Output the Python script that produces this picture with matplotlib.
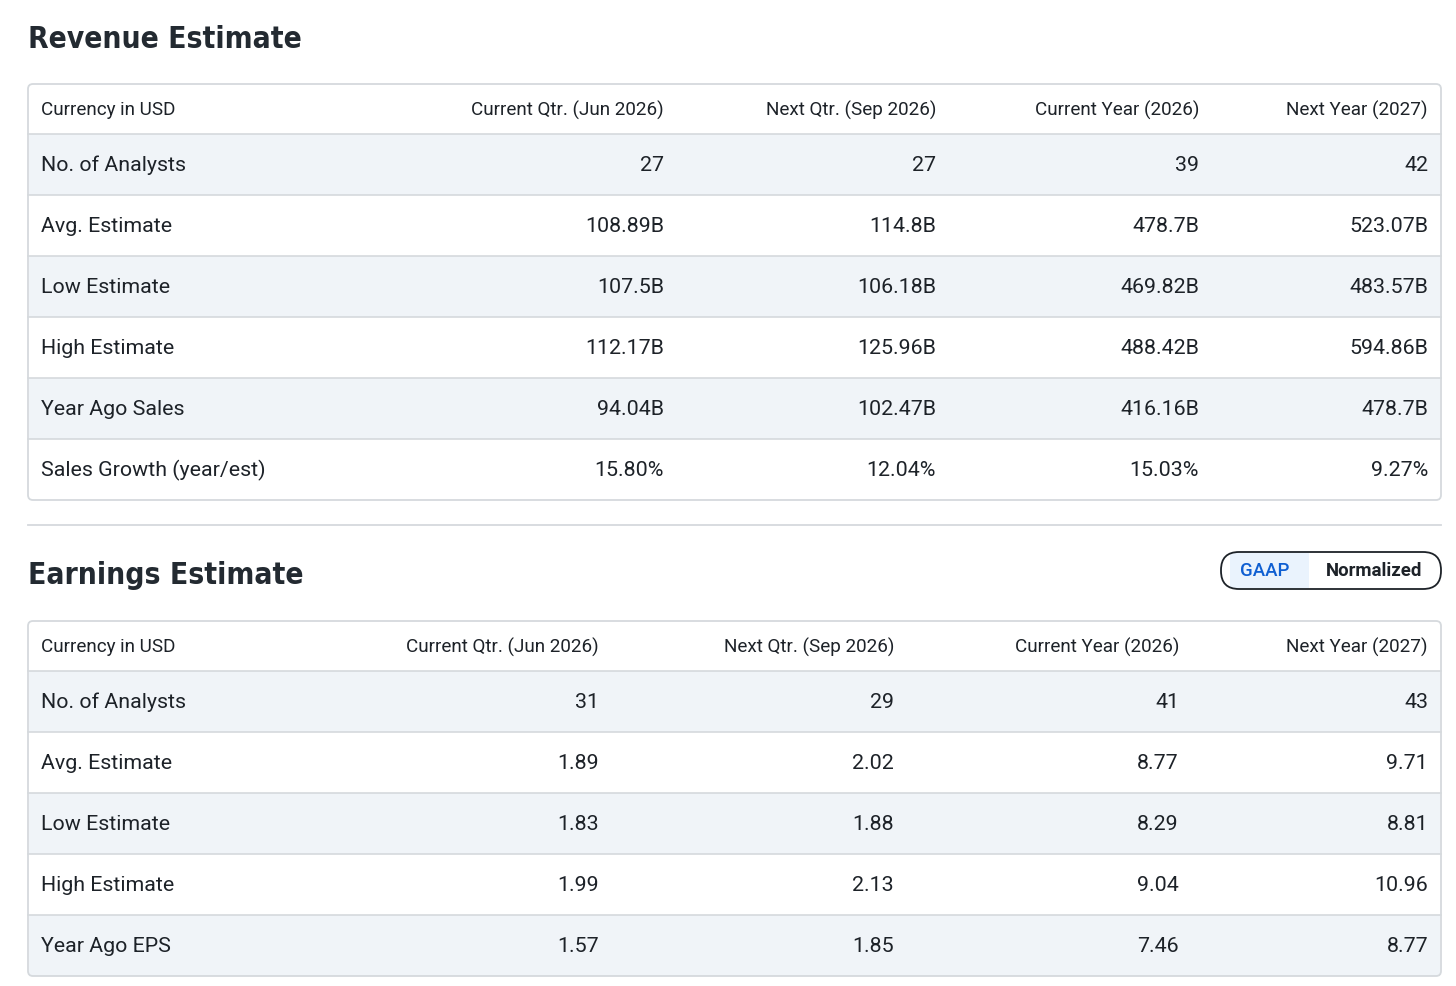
import matplotlib
matplotlib.use("Agg")
import matplotlib.pyplot as plt
from matplotlib.patches import FancyBboxPatch, Rectangle

rev_columns = ["Currency in USD", "Current Qtr. (Jun 2026)", "Next Qtr. (Sep 2026)",
               "Current Year (2026)", "Next Year (2027)"]
rev_rows = ["No. of Analysts", "Avg. Estimate", "Low Estimate", "High Estimate",
            "Year Ago Sales", "Sales Growth (year/est)"]
rev_cur_qtr = ["27", "108.89B", "107.5B", "112.17B", "94.04B", "15.80%"]
rev_next_qtr = ["27", "114.8B", "106.18B", "125.96B", "102.47B", "12.04%"]
rev_cur_year = ["39", "478.7B", "469.82B", "488.42B", "416.16B", "15.03%"]
rev_next_year = ["42", "523.07B", "483.57B", "594.86B", "478.7B", "9.27%"]

eps_columns = ["Currency in USD", "Current Qtr. (Jun 2026)", "Next Qtr. (Sep 2026)",
               "Current Year (2026)", "Next Year (2027)"]
eps_rows = ["No. of Analysts", "Avg. Estimate", "Low Estimate", "High Estimate",
            "Year Ago EPS"]
eps_cur_qtr = ["31", "1.89", "1.83", "1.99", "1.57"]
eps_next_qtr = ["29", "2.02", "1.88", "2.13", "1.85"]
eps_cur_year = ["41", "8.77", "8.29", "9.04", "7.46"]
eps_next_year = ["43", "9.71", "8.81", "10.96", "8.77"]

toggle_labels = ["GAAP", "Normalized"]

TEXT = "#1d2228"
BORDER = "#d5d9dd"
SHADE = "#f0f4f8"
body_font = ["Roboto", "DejaVu Sans"]
title_font = ["DejaVu Sans"]

fig = plt.figure(figsize=(14.56, 9.86), dpi=100)
ax = fig.add_axes([0, 0, 1, 1])
ax.set_xlim(0, 1456)
ax.set_ylim(986, 0)
ax.axis("off")


def draw_table(top, columns, rows, values, col_right):
    left, right = 28, 1441
    header_h, row_h = 50, 61
    bottom = top + header_h + row_h * len(rows)
    # shaded rows
    for i in range(len(rows)):
        y0 = top + header_h + i * row_h
        if i % 2 == 0:
            ax.add_patch(Rectangle((left + 1, y0), right - left - 2, row_h,
                                   facecolor=SHADE, edgecolor="none", zorder=1))
        ax.plot([left, right], [y0, y0], color=BORDER, lw=1.2, zorder=2)
    ax.add_patch(FancyBboxPatch((left, top), right - left, bottom - top,
                                boxstyle="round,pad=0,rounding_size=5",
                                facecolor="none", edgecolor=BORDER, lw=1.3, zorder=3))
    # header
    hy = top + header_h / 2 + 1
    ax.text(41, hy, columns[0], ha="left", va="center", fontsize=13.6,
            color=TEXT, family=body_font, zorder=4)
    for c, x in zip(columns[1:], col_right):
        ax.text(x, hy, c, ha="right", va="center", fontsize=13.6,
                color=TEXT, family=body_font, zorder=4)
    # body
    for i, name in enumerate(rows):
        y = top + header_h + i * row_h + row_h / 2 + 1
        ax.text(41, y, name, ha="left", va="center", fontsize=15.4,
                color=TEXT, family=body_font, zorder=4)
        for col, x in zip(values, col_right):
            ax.text(x, y, col[i], ha="right", va="center", fontsize=15.4,
                    color=TEXT, family=body_font, zorder=4)


ax.text(28, 39, "Revenue Estimate", ha="left", va="center", fontsize=21.5,
        fontweight="bold", fontstretch="condensed", color="#232a31",
        family=title_font)
draw_table(84, rev_columns, rev_rows,
           [rev_cur_qtr, rev_next_qtr, rev_cur_year, rev_next_year],
           [664, 936, 1199, 1428])

ax.plot([28, 1441], [525, 525], color=BORDER, lw=1.3)

ax.text(28, 576, "Earnings Estimate", ha="left", va="center", fontsize=21.5,
        fontweight="bold", fontstretch="condensed", color="#232a31",
        family=title_font)

# GAAP / Normalized toggle
ax.add_patch(Rectangle((1230, 553), 79, 35, facecolor="#eaf3fd",
                       edgecolor="none", zorder=1))
ax.add_patch(FancyBboxPatch((1221, 552), 220, 37,
                            boxstyle="round,pad=0,rounding_size=18",
                            facecolor="none", edgecolor="#1d2228", lw=1.3, zorder=3))
ax.text(1265, 571, toggle_labels[0], ha="center", va="center", fontsize=13.4,
        color="#0f5fd2", family=body_font, fontweight="medium", zorder=4)
ax.text(1374, 571, toggle_labels[1], ha="center", va="center", fontsize=13.4,
        color=TEXT, family=body_font, fontweight="bold", zorder=4)

draw_table(621, eps_columns, eps_rows,
           [eps_cur_qtr, eps_next_qtr, eps_cur_year, eps_next_year],
           [599, 894, 1179, 1428])

fig.savefig("out.png", dpi=100)
